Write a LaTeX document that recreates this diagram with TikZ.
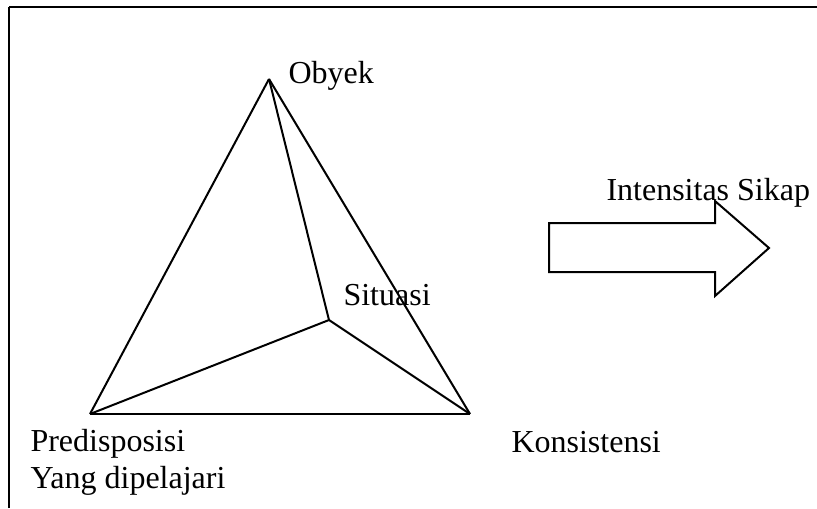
\documentclass[tikz,border=0pt]{standalone}
\usepackage{fontspec}
\setmainfont{Liberation Serif}
\usetikzlibrary{positioning}

\begin{document}
\begin{tikzpicture}[
  x = 0.375pt, y = -0.375pt,
  font = \fontsize{12}{13.8}\selectfont,
  %
  % ── Styles ──────────────────────────────────────────────────────
  rib/.style        = {line width=0.75pt, line join=miter},
  label/.style      = {inner sep=0pt, anchor=base west, align=left},
  blockarrow/.style = {line width=0.75pt, fill=white},
  frameline/.style  = {line width=0.9pt},
]
\useasboundingbox (0,0) rectangle (817,508);

%% ═══════════════════════════════════════════════════════════════
%% FRAME (top and left edge only)
%% ═══════════════════════════════════════════════════════════════
\coordinate (frame-bl) at (9,508);
\coordinate (frame-tl) at (9,7);
\coordinate (frame-tr) at (817,7);
\draw[line width=0.6pt] (frame-bl) -- (frame-tl);
\draw[frameline] (frame-tl) -- (frame-tr);

%% ═══════════════════════════════════════════════════════════════
%% PYRAMID — four corners
%% ═══════════════════════════════════════════════════════════════
\coordinate (obyek)   at (269,79);
\coordinate (predis)  at (90,414);
\coordinate (konsis)  at (470,414);
\coordinate (situasi) at (329,320);

%% ── Edges ──────────────────────────────────────────────────────
\draw[rib] (obyek)   -- (predis);
\draw[rib] (obyek)   -- (konsis);
\draw[rib] (predis)  -- (konsis);
\draw[rib] (obyek)   -- (situasi);
\draw[rib] (situasi) -- (predis);
\draw[rib] (situasi) -- (konsis);

%% ── Corner labels ──────────────────────────────────────────────
\node[label] (obyek-lbl)   at (288,83)  {Obyek};
\node[label] (situasi-lbl) at (343,305) {Situasi};
% base of a two-line node sits on its last line
\node[label] (predis-lbl)  at (30,488)  {Predisposisi\\Yang dipelajari};
\node[label] (konsis-lbl)  at (511,452) {Konsistensi};

%% ═══════════════════════════════════════════════════════════════
%% BLOCK ARROW — Intensitas Sikap
%% ═══════════════════════════════════════════════════════════════
\draw[blockarrow] (549,223) -- (715,223) -- (715,201) -- (769,248)
  -- (715,296) -- (715,272) -- (549,272) -- cycle;
\node[label] (intens-lbl) at (606,200) {Intensitas Sikap};

\end{tikzpicture}
\end{document}
